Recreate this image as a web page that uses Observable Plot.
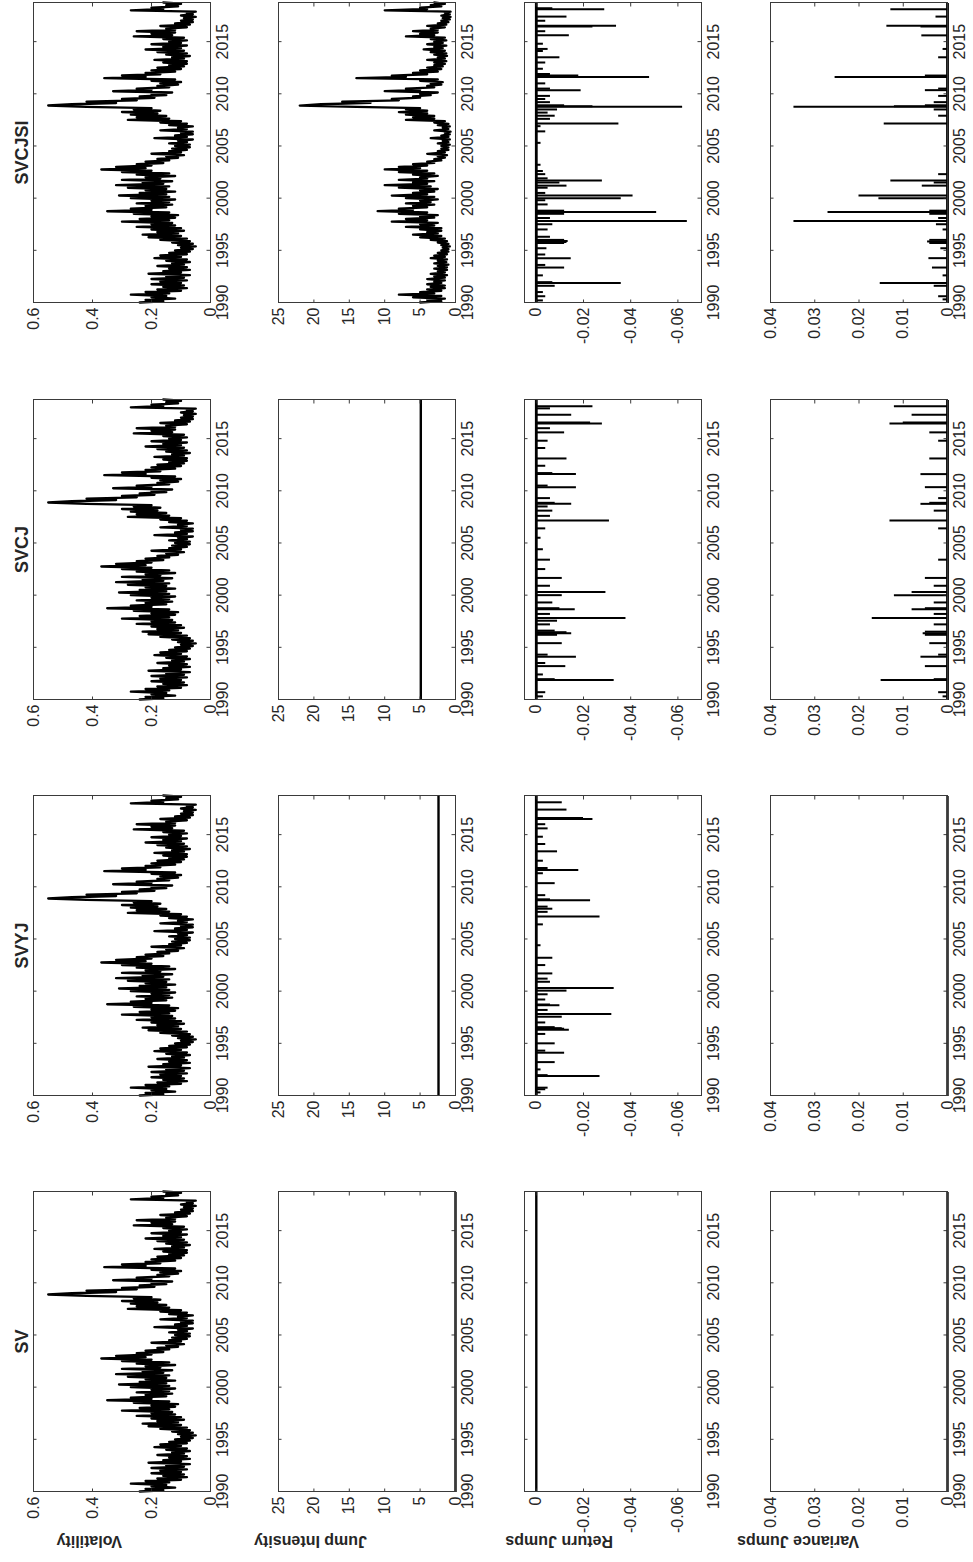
<!DOCTYPE html>
<html><head><meta charset="utf-8">
<script src="https://cdn.jsdelivr.net/npm/d3@7"></script>
<script src="https://cdn.jsdelivr.net/npm/@observablehq/plot@0.6"></script>
<style>
html,body{margin:0;padding:0;background:#fff;overflow:hidden;width:973px;height:1562px;}
#fig{position:absolute;left:0;top:0;width:1562px;height:973px;transform-origin:0 0;transform:translate(0px,1562px) rotate(-90deg);}
</style></head><body><div id="fig"></div>
<script>
const models = ["SV","SVYJ","SVCJ","SVCJSI"];
const rowLabels = ["Volatility","Jump Intensity","Return Jumps","Variance Jumps"];
const xTicks = [1990,1995,2000,2005,2010,2015];
const xDomain = [1990, 2018.75];
const yDomains = [[0,0.6],[0,25],[-0.07,0.005],[0,0.04]];
const yTicks = [[0,0.2,0.4,0.6],[0,5,10,15,20,25],[-0.06,-0.04,-0.02,0],[0,0.01,0.02,0.03,0.04]];
const yTickLabels = [["0","0.2","0.4","0.6"],["0","5","10","15","20","25"],["-0.06","-0.04","-0.02","0"],["0","0.01","0.02","0.03","0.04"]];

// volatility, eighth-year steps from 1990.0
const volatility = [
0.24,0.16,0.22,0.12,0.2,0.15,0.27,0.14, // 1990
0.22,0.1,0.18,0.08,0.16,0.09,0.2,0.1,
0.17,0.08,0.2,0.09,0.15,0.07,0.21,0.1,
0.16,0.07,0.14,0.08,0.18,0.09,0.13,0.07,
0.15,0.08,0.19,0.1,0.17,0.08,0.14,0.07,
0.12,0.06,0.1,0.05,0.11,0.06,0.13,0.07, // 1995
0.17,0.08,0.21,0.1,0.23,0.11,0.18,0.09,
0.2,0.1,0.25,0.12,0.2,0.13,0.3,0.14,
0.24,0.12,0.2,0.11,0.26,0.14,0.35,0.2,
0.27,0.15,0.22,0.13,0.25,0.14,0.2,0.12,
0.27,0.14,0.31,0.15,0.24,0.12,0.22,0.15, // 2000
0.28,0.14,0.32,0.16,0.23,0.13,0.3,0.17,
0.22,0.12,0.25,0.14,0.3,0.2,0.37,0.22,
0.32,0.2,0.25,0.16,0.22,0.14,0.18,0.11,
0.15,0.09,0.2,0.1,0.14,0.08,0.13,0.07,
0.12,0.07,0.14,0.08,0.11,0.06,0.19,0.08, // 2005
0.12,0.06,0.1,0.06,0.17,0.08,0.11,0.06,
0.14,0.08,0.17,0.1,0.28,0.14,0.25,0.15,
0.27,0.18,0.3,0.17,0.26,0.2,0.42,0.55,
0.47,0.32,0.42,0.25,0.3,0.19,0.24,0.15,
0.2,0.13,0.33,0.2,0.25,0.14,0.18,0.11, // 2010
0.17,0.1,0.2,0.12,0.36,0.22,0.3,0.17,
0.22,0.12,0.2,0.1,0.18,0.09,0.14,0.08,
0.16,0.08,0.19,0.09,0.13,0.07,0.15,0.08,
0.18,0.09,0.22,0.1,0.16,0.08,0.2,0.1,
0.14,0.08,0.16,0.09,0.26,0.13,0.2,0.12, // 2015
0.25,0.12,0.15,0.08,0.17,0.07,0.12,0.06,
0.1,0.06,0.09,0.05,0.1,0.06,0.08,0.05,
0.27,0.16,0.2,0.11,0.15,0.1,0.16 // 2018
];

// jump intensity
const jumpIntensitySV = 0;
const jumpIntensitySVYJ = 2.4;
const jumpIntensitySVCJ = 4.9;
const jumpIntensitySVCJSI = [
5,2,4,1.5,6,2,8,3, // 1990
5,2,4,1.5,3.5,1.5,4,2,
3,1.5,4,1.5,3,1.2,3.5,1.5,
2.5,1.2,3,1.2,2.5,1,3,1.3,
2.5,1.2,3.5,1.5,3,1.2,2.5,1,
2,1,1.8,0.8,2,1,2.5,1.2, // 1995
3.5,1.5,5,2,6,2.5,4,2,
5,2,7,3,5,2.5,9,4,
7,3,5,2.5,8,4,11,6,
8,4,6,3,7,3.5,5,2.5,
7,3,9,4,6,3,5,2.5, // 2000
8,3.5,10,4,6,3,8,4,
5,2.5,6,3,8,4,10,5,
8,4,6,3,4,2,3,1.5,
2.5,1.2,4,1.5,2.5,1,2,1,
2,0.8,2.5,1,1.8,0.8,3.5,1, // 2005
2,0.8,1.5,0.7,3,1,1.8,0.8,
2.5,1,3,1.5,7,3,6,3,
7,4,8,4,7,5,14,22,
19,12,16,8,9,5,6,3.5,
5,2.5,10,5,7,3,4,2, // 2010
3.5,1.8,5,2.5,14,7,9,4,
6,2.5,5,2,4,1.8,3,1.5,
3,1.3,4,1.5,2.5,1.2,3,1.3,
3.5,1.5,4.5,1.8,3,1.3,4,1.8,
3,1.3,3.5,1.5,7,3,5,2.5, // 2015
6,2.5,3.5,1.5,4,1.3,2.5,1,
2,0.8,1.8,0.7,2,0.8,1.5,0.7,
10,4,5,2,3.5,1.5,3 // 2018
];

// return jumps: [year, size]
const returnJumpsSVYJ = [[1990.3,-0.002],[1990.6,-0.004],[1990.75,-0.005],[1991.87,-0.027],[1991.95,-0.005],[1992.5,-0.002],[1993.2,-0.008],[1994.1,-0.012],[1994.3,-0.004],[1995.0,-0.008],[1995.9,-0.004],[1996.3,-0.014],[1996.4,-0.012],[1996.45,-0.011],[1996.55,-0.008],[1997.0,-0.004],[1997.55,-0.011],[1997.82,-0.032],[1998.2,-0.005],[1998.65,-0.01],[1998.72,-0.006],[1999.2,-0.004],[1999.7,-0.005],[2000.05,-0.013],[2000.3,-0.033],[2000.9,-0.006],[2001.2,-0.005],[2001.7,-0.007],[2002.5,-0.004],[2003.2,-0.007],[2004.4,-0.002],[2006.4,-0.003],[2007.15,-0.027],[2007.6,-0.005],[2007.9,-0.007],[2008.1,-0.005],[2008.7,-0.023],[2008.8,-0.006],[2009.2,-0.004],[2010.35,-0.008],[2011.3,-0.003],[2011.6,-0.018],[2011.8,-0.005],[2012.5,-0.003],[2013.4,-0.009],[2014.1,-0.004],[2014.8,-0.003],[2015.6,-0.005],[2016.0,-0.004],[2016.5,-0.024],[2016.6,-0.02],[2017.4,-0.013],[2018.1,-0.011]];
const returnJumpsSVCJ = [[1990.3,-0.003],[1990.7,-0.004],[1991.87,-0.033],[1991.95,-0.008],[1992.4,-0.003],[1993.2,-0.0125],[1993.5,-0.004],[1994.1,-0.017],[1994.3,-0.005],[1995.4,-0.011],[1996.2,-0.009],[1996.35,-0.015],[1996.45,-0.013],[1996.6,-0.008],[1997.2,-0.006],[1997.55,-0.009],[1997.82,-0.038],[1998.2,-0.006],[1998.65,-0.0165],[1998.75,-0.01],[1999.3,-0.007],[2000.0,-0.011],[2000.3,-0.0295],[2000.9,-0.006],[2001.65,-0.011],[2002.5,-0.004],[2003.4,-0.006],[2004.4,-0.003],[2005.5,-0.002],[2006.4,-0.004],[2007.15,-0.031],[2007.6,-0.006],[2008.1,-0.007],[2008.5,-0.005],[2008.75,-0.015],[2008.85,-0.008],[2009.3,-0.006],[2010.35,-0.017],[2010.5,-0.005],[2011.6,-0.017],[2011.7,-0.007],[2012.4,-0.004],[2013.1,-0.013],[2014.1,-0.004],[2014.8,-0.005],[2015.6,-0.012],[2016.0,-0.006],[2016.45,-0.028],[2016.55,-0.023],[2017.3,-0.015],[2017.9,-0.006],[2018.1,-0.024]];
const returnJumpsSVCJSI = [[1990.2,-0.003],[1990.6,-0.004],[1991.0,-0.003],[1991.6,-0.008],[1991.87,-0.036],[1991.95,-0.007],[1992.6,-0.003],[1993.35,-0.012],[1993.6,-0.004],[1994.25,-0.0148],[1994.6,-0.004],[1995.2,-0.0045],[1995.7,-0.012],[1995.8,-0.013],[1995.9,-0.0135],[1996.0,-0.012],[1996.3,-0.006],[1997.0,-0.005],[1997.5,-0.007],[1997.82,-0.064],[1998.1,-0.006],[1998.5,-0.012],[1998.68,-0.051],[1998.8,-0.012],[1999.4,-0.005],[1999.8,-0.004],[2000.0,-0.036],[2000.25,-0.041],[2000.5,-0.004],[2001.0,-0.005],[2001.2,-0.013],[2001.5,-0.01],[2001.7,-0.028],[2001.9,-0.005],[2002.3,-0.004],[2002.6,-0.003],[2003.2,-0.002],[2005.3,-0.002],[2006.4,-0.004],[2006.9,-0.002],[2007.15,-0.035],[2007.6,-0.006],[2007.9,-0.008],[2008.2,-0.005],[2008.5,-0.009],[2008.75,-0.062],[2008.8,-0.024],[2008.9,-0.012],[2009.2,-0.006],[2009.5,-0.004],[2009.8,-0.006],[2010.35,-0.019],[2010.5,-0.006],[2011.0,-0.004],[2011.6,-0.048],[2011.75,-0.018],[2011.9,-0.006],[2012.4,-0.003],[2013.0,-0.004],[2013.5,-0.01],[2014.1,-0.003],[2014.3,-0.005],[2014.8,-0.003],[2015.6,-0.014],[2016.0,-0.004],[2016.45,-0.024],[2016.52,-0.034],[2017.0,-0.004],[2017.4,-0.013],[2018.1,-0.029],[2018.2,-0.007]];

// variance jumps: [year, size]
const varianceJumpsSVCJ = [[1990.3,0.001],[1990.7,0.002],[1991.87,0.015],[1991.95,0.003],[1993.2,0.005],[1994.1,0.006],[1994.3,0.002],[1995.4,0.004],[1996.2,0.005],[1996.35,0.0055],[1996.5,0.005],[1997.2,0.003],[1997.82,0.017],[1998.2,0.003],[1998.65,0.008],[1998.75,0.005],[1999.3,0.003],[2000.0,0.012],[2000.3,0.008],[2000.9,0.003],[2001.65,0.005],[2003.4,0.002],[2006.4,0.002],[2007.15,0.013],[2008.1,0.003],[2008.75,0.006],[2008.85,0.004],[2009.3,0.002],[2010.35,0.005],[2011.6,0.006],[2013.1,0.004],[2014.8,0.002],[2015.6,0.004],[2016.45,0.013],[2016.55,0.01],[2017.3,0.008],[2018.1,0.012]];
const varianceJumpsSVCJSI = [[1990.3,0.001],[1990.6,0.002],[1991.6,0.003],[1991.87,0.0152],[1992.6,0.001],[1993.35,0.0034],[1994.25,0.0042],[1995.2,0.0015],[1995.7,0.004],[1995.85,0.0045],[1996.0,0.004],[1997.0,0.001],[1997.5,0.0025],[1997.82,0.0347],[1998.1,0.002],[1998.5,0.004],[1998.68,0.027],[1998.8,0.004],[2000.0,0.0155],[2000.25,0.02],[2001.2,0.0057],[2001.5,0.003],[2001.7,0.0128],[2002.3,0.002],[2007.15,0.0143],[2007.9,0.002],[2008.5,0.003],[2008.75,0.0347],[2008.8,0.012],[2008.9,0.005],[2009.2,0.003],[2009.8,0.002],[2010.35,0.005],[2010.5,0.002],[2011.6,0.0254],[2011.75,0.005],[2013.5,0.002],[2014.3,0.001],[2015.6,0.0058],[2016.45,0.006],[2016.52,0.0137],[2017.4,0.0026],[2018.1,0.0128]];

// ---- build ----
const tGrid = volatility.map((_, i) => 1990 + i / 8);
const volTable = volatility.map((v, i) => ({t: tGrid[i], v}));
const jiTable = jumpIntensitySVCJSI.map((v, i) => ({t: tGrid[i], v}));

const fig = document.getElementById("fig");
const PW = 300, PH = 177;
const panelLeft = [70, 466, 862, 1259];
const panelTop = [33, 278, 524, 770];
const M = {l: 64, r: 16, t: 34, b: 38};
const TICK = 3.5;
const ink = "#262626";
const font = "'Liberation Sans', Arial, Helvetica, sans-serif";

function spikes(arr) {
  return [
    Plot.ruleY([0], {stroke: "black", strokeWidth: 2.8}),
    Plot.ruleX(arr, {x: d => d[0], y1: 0, y2: d => d[1], stroke: "black", strokeWidth: 2})
  ];
}

function dataMarks(r, c) {
  if (r === 0) return [Plot.line(volTable, {x: "t", y: "v", stroke: "black", strokeWidth: 2.4})];
  if (r === 1) {
    if (c === 3) return [Plot.line(jiTable, {x: "t", y: "v", stroke: "black", strokeWidth: 2.3})];
    const k = [jumpIntensitySV, jumpIntensitySVYJ, jumpIntensitySVCJ][c];
    return [Plot.ruleY([k], {stroke: "black", strokeWidth: 2.4})];
  }
  if (r === 2) {
    if (c === 0) return [Plot.ruleY([0], {stroke: "black", strokeWidth: 2.4})];
    return spikes([null, returnJumpsSVYJ, returnJumpsSVCJ, returnJumpsSVCJSI][c]);
  }
  if (c < 2) return [Plot.ruleY([0], {stroke: "black", strokeWidth: 2.4})];
  return spikes([null, null, varianceJumpsSVCJ, varianceJumpsSVCJSI][c]);
}

function panel(r, c) {
  const [y0, y1] = yDomains[r];
  const [x0, x1] = xDomain;
  const dy = TICK * (y1 - y0) / PH, dx = TICK * (x1 - x0) / PW;
  const labelOf = new Map(yTicks[r].map((v, i) => [v, yTickLabels[r][i]]));
  const marks = [
    ...dataMarks(r, c),
    Plot.ruleX(xTicks, {y1: y0, y2: y0 + dy, stroke: ink, strokeWidth: 0.9}),
    Plot.ruleX(xTicks, {y1: y1, y2: y1 - dy, stroke: ink, strokeWidth: 0.9}),
    Plot.ruleY(yTicks[r], {x1: x0, x2: x0 + dx, stroke: ink, strokeWidth: 0.9}),
    Plot.ruleY(yTicks[r], {x1: x1, x2: x1 - dx, stroke: ink, strokeWidth: 0.9}),
    Plot.frame({stroke: "#3a3a3a", strokeWidth: 1}),
    Plot.axisX({ticks: xTicks, tickSize: 0, tickPadding: 6, tickFormat: d => String(d), label: null}),
    Plot.axisY({ticks: yTicks[r], tickSize: 0, tickPadding: 5, tickFormat: d => labelOf.get(d), label: null})
  ];
  if (r === 0) marks.push(Plot.text([models[c]], {text: d => d, frameAnchor: "top", dy: -6, lineAnchor: "bottom", fontWeight: "bold", fontSize: 18, fill: ink}));
  if (c === 0) marks.push(Plot.text([rowLabels[r]], {text: d => d, frameAnchor: "left", dx: -50, rotate: -90, fontWeight: "bold", fontSize: 16, fill: ink}));
  const svg = Plot.plot({
    width: PW + M.l + M.r, height: PH + M.t + M.b,
    marginLeft: M.l, marginRight: M.r, marginTop: M.t, marginBottom: M.b,
    x: {domain: xDomain}, y: {domain: yDomains[r]},
    style: {fontFamily: font, fontSize: "16px", color: ink, background: "transparent", overflow: "visible"},
    marks
  });
  svg.style.position = "absolute";
  svg.style.left = (panelLeft[c] - M.l) + "px";
  svg.style.top = (panelTop[r] - M.t) + "px";
  svg.style.maxWidth = "none";
  fig.appendChild(svg);
}

for (let r = 0; r < 4; r++) for (let c = 0; c < 4; c++) panel(r, c);
</script>
</body></html>
